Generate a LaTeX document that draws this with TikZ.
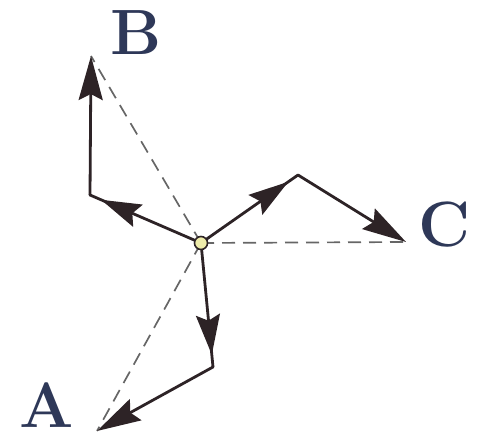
\documentclass[tikz,border=0pt]{standalone}
\usepackage{xcolor}
\usetikzlibrary{arrows.meta, decorations.markings}
\definecolor{lblblue}{RGB}{46,56,88}
\definecolor{vecdark}{RGB}{45,35,38}
\definecolor{dotyellow}{RGB}{238,236,170}

\begin{document}
\begin{tikzpicture}[x=1pt, y=-1pt,
    vec/.style={draw=vecdark, line width=2.8pt, line cap=round,
        -{Stealth[length=44pt, width=24pt, inset=6pt]}},
    midvec/.style={draw=vecdark, line width=2.8pt, line cap=round,
        postaction=decorate,
        decoration={markings,
            mark=at position 0.9 with {\arrow{Stealth[length=40pt, width=24pt, inset=6pt]}}}},
    guide/.style={draw=black!60, line width=1.7pt, dash pattern=on 13pt off 8pt},
    letter/.style={font=\fontsize{64}{66}\selectfont\bfseries, text=lblblue,
        inner sep=0pt},
    hub/.style={circle, draw=vecdark, fill=dotyellow, line width=1.6pt,
        inner sep=0pt, minimum size=13pt}
]
\useasboundingbox (0,0) rectangle (490,438);

% points
\coordinate (o)  at (201,243);
\coordinate (bk) at (90,195);
\coordinate (b)  at (91,56);
\coordinate (ck) at (298,175);
\coordinate (c)  at (406,242);
\coordinate (ak) at (213,367);
\coordinate (a)  at (97,431);

% dashed guides
\draw[guide] (o) -- (b);
\draw[guide] (o) -- (c);
\draw[guide] (o) -- (a);

% vectors
\draw[midvec] (o) -- (bk);
\draw[vec] (bk) -- (b);
\draw[midvec] (o) -- (ck);
\draw[vec] (ck) -- (c);
\draw[midvec] (o) -- (ak);
\draw[vec] (ak) -- (a);

\node[hub] (hub) at (o) {};

% labels
\node[letter] (lb) at (136,33) {B};
\node[letter] (lc) at (445,225) {C};
\node[letter] (la) at (47,405) {A};
\end{tikzpicture}
\end{document}
